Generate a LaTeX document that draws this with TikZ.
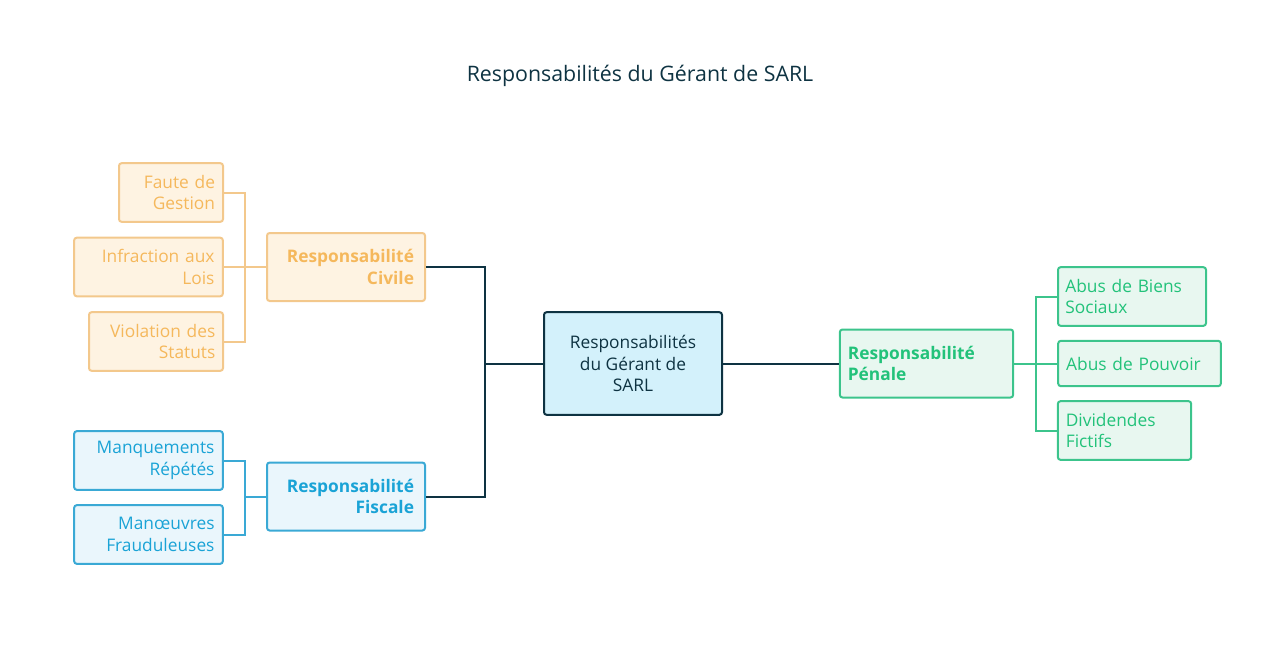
\documentclass[tikz,border=0pt]{standalone}
\usepackage{fontspec}
\setmainfont{Open Sans}
\begin{document}
\begin{tikzpicture}[x=0.75pt,y=-0.75pt,
 every node/.style={inner sep=0pt,font=\fontsize{13}{16}\selectfont},
 box/.style={draw,rounded corners=2pt,line width=1.5pt},
 ora/.style={box,draw=orange!45!white!90!black,fill=orange!12,text=orange!70!yellow!90!white},
 blu/.style={box,draw=cyan!70!blue!80!white,fill=cyan!8,text=cyan!80!blue},
 grn/.style={box,draw=green!60!teal!70!white,fill=green!6!teal!6,text=green!65!teal},
 ln/.style={line width=1.5pt},
 dk/.style={ln,draw=black!70!cyan!60!blue}]
\definecolor{oT}{HTML}{F5B85C}\definecolor{oF}{HTML}{FEF3E2}\definecolor{oD}{HTML}{F3C88C}
\definecolor{bT}{HTML}{1AA3D6}\definecolor{bF}{HTML}{EAF6FC}\definecolor{bD}{HTML}{3AA9D5}
\definecolor{gT}{HTML}{22C27A}\definecolor{gF}{HTML}{E8F7F0}\definecolor{gD}{HTML}{3CC48C}
\definecolor{cF}{HTML}{D3F1FB}\definecolor{cD}{HTML}{0E3342}
\tikzset{ora/.style={box,draw=oD,fill=oF,text=oT},blu/.style={box,draw=bD,fill=bF,text=bT},
 grn/.style={box,draw=gD,fill=gF,text=gT},dk/.style={ln,draw=cD}}
\useasboundingbox (0,0) rectangle (1280,667);
\node[text=cD,font=\fontsize{16}{20}\selectfont] (t) at (640,76) {Responsabilités du Gérant de SARL};
\node[box,draw=cD,fill=cF,text=cD,minimum width=133.5pt,minimum height=77pt,align=center] (c) at (633,363.5) {Responsabilités\\du Gérant de\\SARL};
\node[ora,minimum width=118.5pt,minimum height=51pt,align=right,text width=102pt,font=\bfseries\fontsize{13}{16}\selectfont] (civ) at (346,267) {Responsabilité\\Civile};
\node[blu,minimum width=118.5pt,minimum height=51pt,align=right,text width=102pt,font=\bfseries\fontsize{13}{16}\selectfont] (fis) at (346,496.5) {Responsabilité\\Fiscale};
\node[grn,minimum width=130pt,minimum height=51pt,align=left,text width=118pt,font=\bfseries\fontsize{13}{16}\selectfont] (pen) at (926.5,363.5) {Responsabilité\\Pénale};
\node[ora,minimum width=78pt,minimum height=44pt,align=right,text width=66pt] (f1) at (171,192.5) {Faute de\\Gestion};
\node[ora,minimum width=111.5pt,minimum height=44pt,align=right,text width=99pt] (f2) at (148.5,267) {Infraction aux\\Lois};
\node[ora,minimum width=100.5pt,minimum height=44pt,align=right,text width=89pt] (f3) at (156,341.5) {Violation des\\Statuts};
\node[blu,minimum width=111.5pt,minimum height=44pt,align=right,text width=99pt] (b1) at (148.5,460.5) {Manquements\\Répétés};
\node[blu,minimum width=111.5pt,minimum height=44pt,align=right,text width=99pt] (b2) at (148.5,534.5) {Manœuvres\\Frauduleuses};
\node[grn,minimum width=111pt,minimum height=44pt,align=left,text width=100pt] (g1) at (1132,296.5) {Abus de Biens\\Sociaux};
\node[grn,minimum width=122pt,minimum height=34pt,align=left,text width=110pt] (g2) at (1139.5,363.5) {Abus de Pouvoir};
\node[grn,minimum width=100pt,minimum height=44pt,align=left,text width=88pt] (g3) at (1124.5,430.5) {Dividendes\\Fictifs};
\draw[dk] (c.west) -- (485,363.5) coordinate (m);
\draw[dk] (civ.east) -| (m) |- (fis.east);
\draw[dk] (c.east) -- (pen.west);
\draw[ln,draw=oD] (civ.west) -- (245,267) coordinate (oc);
\draw[ln,draw=oD] (f1.east) -| (oc) (f3.east) -| (oc) (f2.east) -- (oc);
\draw[ln,draw=bD] (fis.west) -- (245,496.5) coordinate (bc);
\draw[ln,draw=bD] (b1.east) -| (bc) (b2.east) -| (bc);
\draw[ln,draw=gD] (pen.east) -- (1036,363.5) coordinate (gc);
\draw[ln,draw=gD] (g1.west) -| (gc) (g3.west) -| (gc) (g2.west) -- (gc);
\end{tikzpicture}
\end{document}
